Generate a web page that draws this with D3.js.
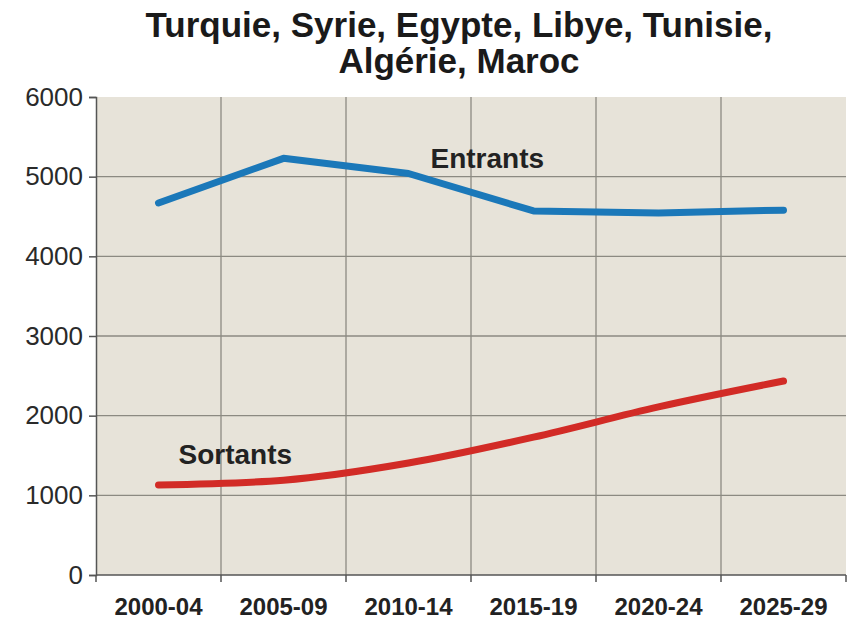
<!DOCTYPE html>
<html>
<head>
<meta charset="utf-8">
<script src="https://cdn.jsdelivr.net/npm/d3@7"></script>
<style>
  body { margin: 0; background: #fff; }
  text { font-family: "Liberation Sans", Arial, sans-serif; }
</style>
</head>
<body>
<svg id="chart" width="850" height="623"></svg>
<script>
var periods = ["2000-04", "2005-09", "2010-14", "2015-19", "2020-24", "2025-29"];
var entrants = [4670, 5230, 5040, 4570, 4545, 4580];
var sortants = [1130, 1190, 1405, 1730, 2110, 2435];
var yTicks = [0, 1000, 2000, 3000, 4000, 5000, 6000];
var titleLines = ["Turquie, Syrie, Egypte, Libye, Tunisie,", "Algérie, Maroc"];

var svg = d3.select("#chart"),
    margin = {top: 97, right: 4, bottom: 48, left: 96},
    width = +svg.attr("width") - margin.left - margin.right,
    height = +svg.attr("height") - margin.top - margin.bottom;

var x = d3.scaleBand().domain(periods).range([0, width]);
var y = d3.scaleLinear().domain([0, 6000]).range([height, 0]);

var g = svg.append("g")
    .attr("transform", "translate(" + margin.left + "," + margin.top + ")");

g.append("rect")
    .attr("width", width)
    .attr("height", height)
    .attr("fill", "#e7e3d9");

// horizontal grid
g.selectAll(".hgrid")
    .data(yTicks.slice(1, -1))
    .enter().append("line")
    .attr("x1", 0).attr("x2", width)
    .attr("y1", function (d) { return y(d); })
    .attr("y2", function (d) { return y(d); })
    .attr("stroke", "#8c8a82").attr("stroke-width", 1.3);

// vertical grid at band boundaries
g.selectAll(".vgrid")
    .data(periods.slice(1))
    .enter().append("line")
    .attr("x1", function (d) { return x(d); })
    .attr("x2", function (d) { return x(d); })
    .attr("y1", 0).attr("y2", height)
    .attr("stroke", "#8c8a82").attr("stroke-width", 1.3);

// y axis
var yAxis = g.append("g")
    .call(d3.axisLeft(y).tickValues(yTicks).tickSize(7).tickPadding(6).tickFormat(d3.format("d")));
yAxis.selectAll("text").attr("font-size", 26).attr("fill", "#2a2a2a")
    .style("font-family", "'Liberation Sans', Arial, sans-serif");
yAxis.selectAll("line, path").attr("stroke", "#555").attr("stroke-width", 1.5);

// x axis: ticks at boundaries, labels at band centres
var xAxis = g.append("g").attr("transform", "translate(0," + height + ")");
xAxis.append("line").attr("x1", 0).attr("x2", width)
    .attr("stroke", "#555").attr("stroke-width", 1.5);
xAxis.selectAll(".xt")
    .data([0].concat(periods.slice(1).map(function (p) { return x(p); })).concat([width]))
    .enter().append("line")
    .attr("x1", function (d) { return d; }).attr("x2", function (d) { return d; })
    .attr("y1", 0).attr("y2", 7)
    .attr("stroke", "#555").attr("stroke-width", 1.5);
xAxis.selectAll(".xl")
    .data(periods)
    .enter().append("text")
    .attr("x", function (d) { return x(d) + x.bandwidth() / 2; })
    .attr("y", 40)
    .attr("text-anchor", "middle")
    .attr("font-size", 24).attr("font-weight", "bold").attr("fill", "#222")
    .text(function (d) { return d; });

function cx(i) { return x(periods[i]) + x.bandwidth() / 2; }

var lineLinear = d3.line()
    .x(function (d, i) { return cx(i); })
    .y(function (d) { return y(d); });
var lineSmooth = d3.line()
    .x(function (d, i) { return cx(i); })
    .y(function (d) { return y(d); })
    .curve(d3.curveMonotoneX);

g.append("path").datum(entrants)
    .attr("d", lineLinear)
    .attr("fill", "none").attr("stroke", "#1b78b9").attr("stroke-width", 7)
    .attr("stroke-linejoin", "round").attr("stroke-linecap", "round");

g.append("path").datum(sortants)
    .attr("d", lineSmooth)
    .attr("fill", "none").attr("stroke", "#d22b26").attr("stroke-width", 7)
    .attr("stroke-linejoin", "round").attr("stroke-linecap", "round");

// series labels
g.append("text")
    .attr("x", cx(2) + 22).attr("y", y(5000) - 9)
    .attr("font-size", 28).attr("font-weight", "bold").attr("fill", "#222")
    .text("Entrants");
g.append("text")
    .attr("x", cx(0) + 20).attr("y", y(1000) - 31)
    .attr("font-size", 28).attr("font-weight", "bold").attr("fill", "#222")
    .text("Sortants");

// title
svg.selectAll(".title")
    .data(titleLines)
    .enter().append("text")
    .attr("x", 459)
    .attr("y", function (d, i) { return 37 + i * 36; })
    .attr("text-anchor", "middle")
    .attr("font-size", 35).attr("font-weight", "bold").attr("fill", "#1a1a1a")
    .text(function (d) { return d; });
</script>
</body>
</html>
